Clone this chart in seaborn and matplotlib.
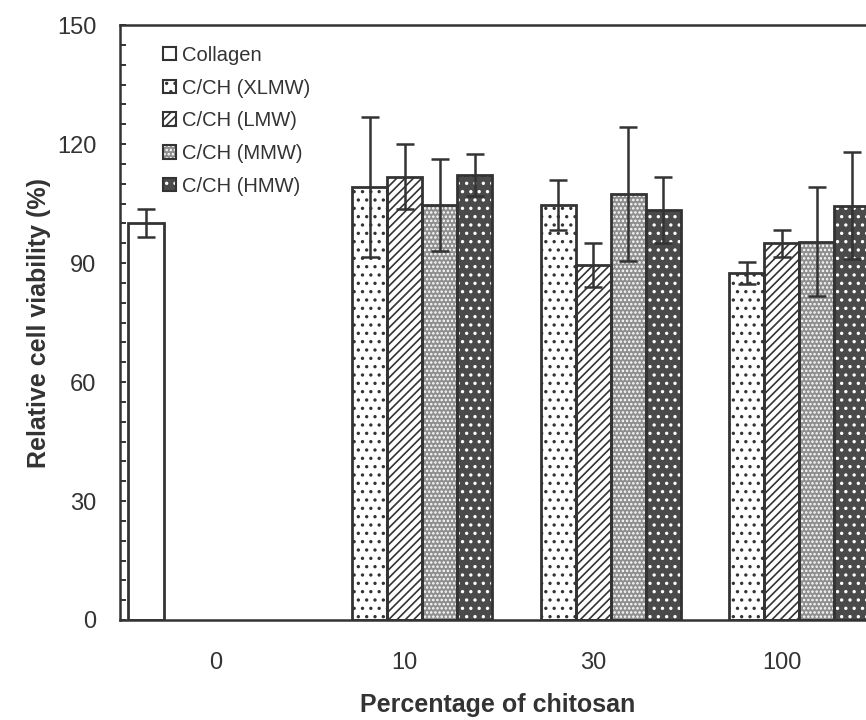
import matplotlib
matplotlib.use("Agg")
import matplotlib.pyplot as plt
from matplotlib.patches import Rectangle, Patch
from matplotlib.legend_handler import HandlerTuple
import seaborn as sns
import pandas as pd
import numpy as np

# ---- data ----
categories = ["0", "10", "30", "100"]
series = ["Collagen", "C/CH (XLMW)", "C/CH (LMW)", "C/CH (MMW)", "C/CH (HMW)"]
collagen_vals = [100.0]
collagen_err = [3.5]
xlmw_vals = [109.2, 104.5, 87.5]
xlmw_err = [17.6, 6.3, 2.7]
lmw_vals = [111.8, 89.5, 95.0]
lmw_err = [8.2, 5.6, 3.4]
mmw_vals = [104.5, 107.4, 95.4]
mmw_err = [11.6, 17.0, 13.8]
hmw_vals = [112.3, 103.3, 104.4]
hmw_err = [5.3, 8.3, 13.5]

rows = [("0", "Collagen", collagen_vals[0])]
for name, vals in zip(series[1:], [xlmw_vals, lmw_vals, mmw_vals, hmw_vals]):
    for c, v in zip(categories[1:], vals):
        rows.append((c, name, v))
df = pd.DataFrame(rows, columns=["conc", "series", "value"])
errs = [collagen_err, xlmw_err, lmw_err, mmw_err, hmw_err]

# ---- styles ----
faces = ["white", "white", "white", "#8e8e8e", "#4a4a4a"]
hatches = [None, "..", "////", "....", ".."]
hatch_cols = ["#333333", "#333333", "#333333", "white", "white"]
dark = "#333333"

sns.set_theme(style="white")
plt.rcParams["font.family"] = ["Liberation Sans", "DejaVu Sans"]
plt.rcParams["hatch.linewidth"] = 1.2

fig = plt.figure(figsize=(8.66, 7.20), dpi=100)
ax_left, ax_right = 120 / 866, 876 / 866
ax = fig.add_axes([ax_left, 1 - 620 / 720, ax_right - ax_left, 595 / 720])

sns.barplot(data=df, x="conc", y="value", hue="series", order=categories,
            hue_order=series, palette=dict(zip(series, faces)),
            width=0.93, dodge=True, errorbar=None, ax=ax, legend=False,
            saturation=1)

bar_containers = list(ax.containers)
for i, cont in enumerate(bar_containers):
    for j, p in enumerate(cont):
        p.set_facecolor(faces[i])
        p.set_edgecolor(hatch_cols[i])
        p.set_linewidth(0)
        if hatches[i]:
            p.set_hatch(hatches[i])
        ax.add_patch(Rectangle((p.get_x(), p.get_y()), p.get_width(), p.get_height(),
                               fill=False, ec=dark, lw=2.0, zorder=p.get_zorder() + 0.1))
        xc = p.get_x() + p.get_width() / 2
        ax.errorbar(xc, p.get_height(), yerr=errs[i][j], color=dark, lw=1.8,
                    capsize=6.2, capthick=1.8, zorder=5)

ax.set_xlim(-0.51, 3.5)
ax.set_ylim(0, 150)
ax.set_yticks(np.arange(0, 151, 30))
ax.set_yticks(np.arange(0, 151, 5), minor=True)
ax.tick_params(axis="y", which="both", direction="in", length=4.5, width=1.4,
               color=dark, left=True, labelsize=17, pad=17, labelcolor="#333333")
ax.tick_params(axis="x", which="both", length=0, labelsize=17, pad=23,
               labelcolor="#333333")
for s in ["left", "bottom", "top", "right"]:
    ax.spines[s].set_color(dark)
    ax.spines[s].set_linewidth(1.8)

ax.set_xlabel("Percentage of chitosan", fontsize=18, fontweight="bold",
              labelpad=14, color="#333333")
ax.set_ylabel("Relative cell viability (%)", fontsize=18, fontweight="bold",
              labelpad=4, color="#333333")

handles = []
for i in range(5):
    h1 = Patch(facecolor=faces[i], edgecolor=hatch_cols[i], lw=0, hatch=hatches[i])
    h2 = Patch(fill=False, edgecolor=dark, lw=1.5)
    handles.append((h1, h2))
ax.legend(handles=handles, labels=series, handler_map={tuple: HandlerTuple(ndivide=1, pad=0)},
          loc="upper left", bbox_to_anchor=(0.057, 0.965), borderaxespad=0,
          borderpad=0, frameon=False, fontsize=14.5, handlelength=0.65,
          handleheight=0.65, handletextpad=0.3, labelspacing=0.68,
          labelcolor="#333333")

fig.savefig("out.png", dpi=100, facecolor="white")
